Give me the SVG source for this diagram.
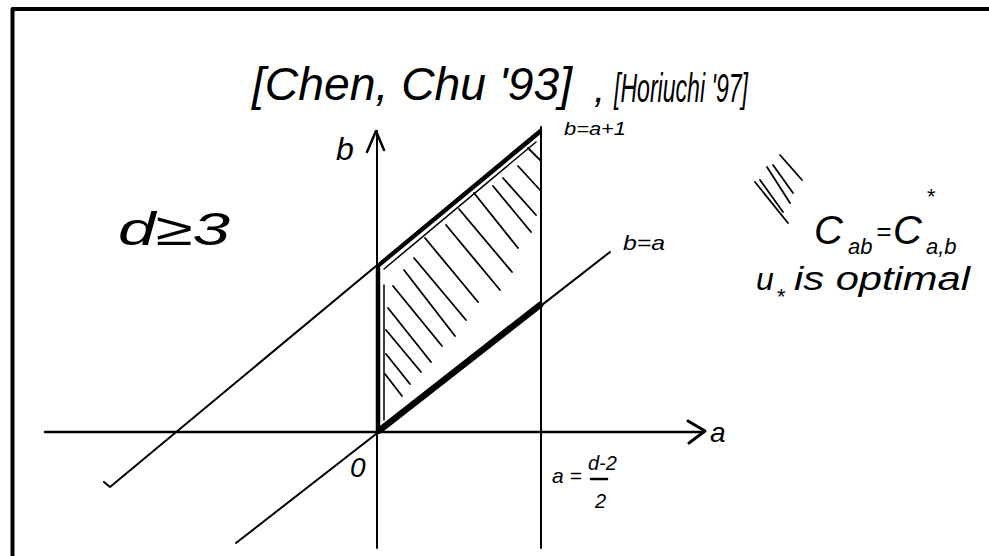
<svg xmlns="http://www.w3.org/2000/svg" width="989" height="556" viewBox="0 0 989 556">
<style>
.ln{stroke:#000;fill:none;stroke-linecap:round;stroke-linejoin:round}
.thin{stroke-width:2}
.mid{stroke-width:2.5}
.hatch{stroke:#000;stroke-width:1.8;stroke-linecap:round}
.t{font-family:"Liberation Sans",Arial,sans-serif;font-style:italic;fill:#000}
</style>
<rect width="989" height="556" fill="#fff"/>
<g id="frame">
<path d="M12.5 556 V9 H989" class="ln" stroke-width="4" stroke-linecap="butt"/>
</g>
<g id="connectors">
<path id="a-axis" class="ln mid" d="M45 432 H704"/>
<path class="ln" stroke-width="3" d="M688 421 L705 431 L689 443"/>
<path id="b-axis" class="ln thin" d="M377 548 V131"/>
<path class="ln" stroke-width="2.5" d="M367 152 L376 131 L384 150"/>
<path id="a-bound" class="ln thin" d="M541 548 V127"/>
<path id="line-b-eq-a" class="ln thin" d="M236 543 L610 252"/>
<path id="line-b-eq-a1" class="ln thin" d="M104 482 L110 487 L541 129"/>
</g>
<g id="region">
<path class="ln" stroke-width="4.5" d="M378 268 L378 432"/>
<path class="ln" stroke-width="1.5" d="M384 285 L384 420"/>
<path class="ln" stroke-width="4" d="M378 266 L540 132"/>
<path class="ln" stroke-width="1.5" d="M384 269 L536 142"/>
<path class="ln" stroke-width="6.5" d="M380 430 L540 305"/>
<g id="hatching">
<line class="hatch" x1="528" y1="148" x2="540" y2="160"/>
<line class="hatch" x1="518" y1="166" x2="540" y2="190"/>
<line class="hatch" x1="503" y1="178" x2="536" y2="215"/>
<line class="hatch" x1="493" y1="186" x2="531" y2="232"/>
<line class="hatch" x1="474" y1="193" x2="518" y2="248"/>
<line class="hatch" x1="459" y1="209" x2="512" y2="272"/>
<line class="hatch" x1="446" y1="225" x2="500" y2="290"/>
<line class="hatch" x1="425" y1="238" x2="478" y2="302"/>
<line class="hatch" x1="414" y1="258" x2="466" y2="320"/>
<line class="hatch" x1="404" y1="270" x2="455" y2="336"/>
<line class="hatch" x1="393" y1="286" x2="442" y2="346"/>
<line class="hatch" x1="388" y1="308" x2="431" y2="362"/>
<line class="hatch" x1="386" y1="330" x2="421" y2="372"/>
<line class="hatch" x1="386" y1="354" x2="410" y2="384"/>
<line class="hatch" x1="385" y1="374" x2="402" y2="396"/>
</g>
</g>
<g id="legend-hatch">
<line class="hatch" x1="780" y1="155" x2="802" y2="180"/>
<line class="hatch" x1="773" y1="165" x2="793" y2="193"/>
<line class="hatch" x1="767" y1="167" x2="790" y2="203"/>
<line class="hatch" x1="760" y1="180" x2="783" y2="212" stroke-width="2.5"/>
<line class="hatch" x1="755" y1="182" x2="788" y2="223" stroke-width="1"/>
</g>
<g id="title">
<text class="t" x="252" y="100" font-size="46" textLength="320" lengthAdjust="spacingAndGlyphs">[Chen, Chu '93]</text>
<text class="t" x="594" y="102" font-size="40">,</text>
<text class="t" x="614" y="102" font-size="40" textLength="134" lengthAdjust="spacingAndGlyphs">[Horiuchi '97]</text>
</g>
<g id="labels">
<text class="t" x="564" y="135" font-size="19" textLength="62" lengthAdjust="spacingAndGlyphs">b=a+1</text>
<text class="t" x="336" y="160" font-size="32">b</text>
<text class="t" x="118" y="245" font-size="46" textLength="112" lengthAdjust="spacingAndGlyphs">d≥3</text>
<text class="t" x="623" y="250" font-size="21" textLength="42" lengthAdjust="spacingAndGlyphs">b=a</text>
<text class="t" x="710" y="442" font-size="28">a</text>
<text class="t" x="350" y="477" font-size="28">0</text>
<text class="t" x="552" y="483" font-size="21">a =</text>
<text class="t" x="588" y="470" font-size="20">d-2</text>
<line class="ln mid" x1="591" y1="479" x2="607" y2="479"/>
<text class="t" x="595" y="508" font-size="20">2</text>
</g>
<g id="note">
<text class="t" x="814" y="244" font-size="40">C</text>
<text class="t" x="848" y="254" font-size="22">ab</text>
<text class="t" x="876" y="240" font-size="26">=</text>
<text class="t" x="893" y="244" font-size="40">C</text>
<text class="t" x="926" y="204" font-size="22">*</text>
<text class="t" x="926" y="254" font-size="22">a,b</text>
<text class="t" x="756" y="290" font-size="32">u</text>
<text class="t" x="776" y="304" font-size="22">*</text>
<text class="t" x="794" y="290" font-size="34" textLength="176" lengthAdjust="spacingAndGlyphs">is optimal</text>
</g>
</svg>
